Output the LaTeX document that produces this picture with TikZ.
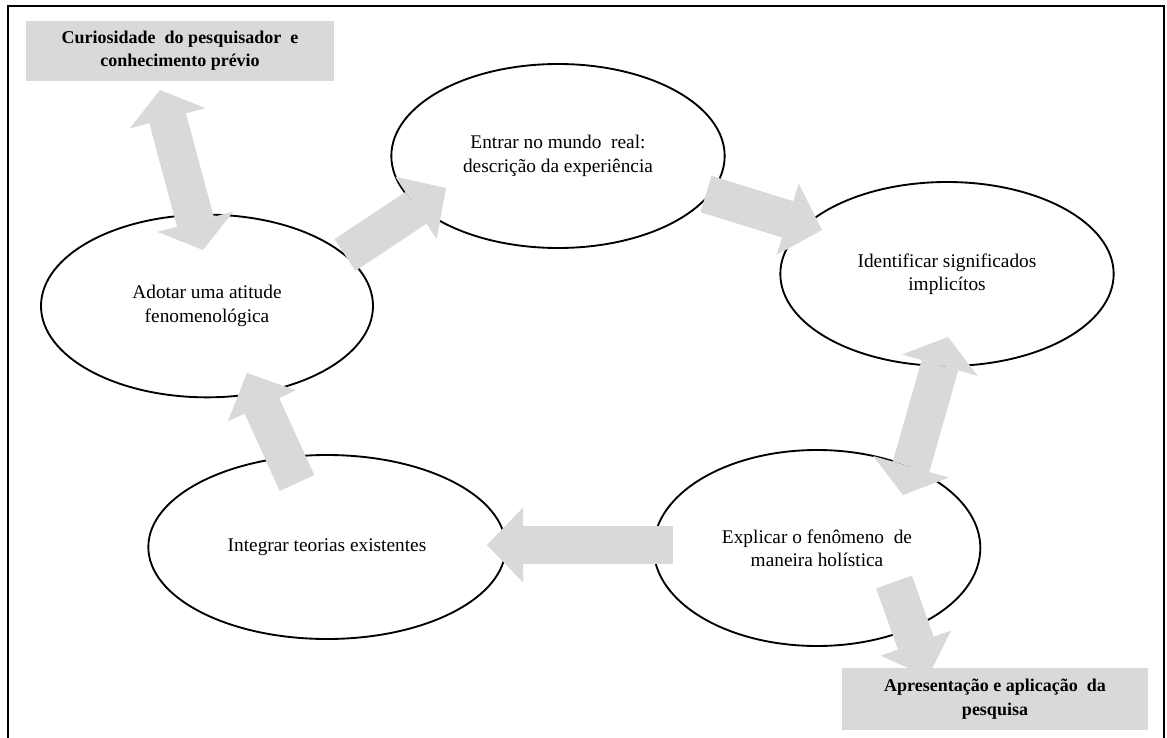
\documentclass[tikz,border=0pt]{standalone}
\usepackage{fontspec}
\setmainfont{Liberation Serif}
\usetikzlibrary{shapes.geometric,arrows.meta,calc}
\definecolor{blockgray}{HTML}{D9D9D9}

\begin{document}
\begin{tikzpicture}[
  x=0.75pt, y=-0.75pt,
  every node/.style={font=\fontsize{14.5}{17.5}\selectfont, align=center},
  phase/.style={ellipse, draw, line width=1.4pt, fill=white, inner sep=0pt},
  extbox/.style={rectangle, fill=blockgray, inner sep=0pt, font=\fontsize{13.5}{17.5}\selectfont\bfseries},
  blk/.style={draw=blockgray, line width=28.5pt, -{Triangle[length=27pt, width=56pt, line width=0pt]}},
  dblk/.style={draw=blockgray, line width=28.5pt, {Triangle[length=22pt, width=59pt, line width=0pt]}-{Triangle[length=22pt, width=59pt, line width=0pt]}},
]
\useasboundingbox (0,0) rectangle (1167,738);
\draw[line width=2pt] (8,738) -- (8,6) -- (1164,6) -- (1164,738);

\node[extbox, minimum width=231pt, minimum height=45pt] (curio) at (180,51) {Curiosidade\ \ do pesquisador\ \ e\\conhecimento\ prévio};
\node[extbox, minimum width=229.5pt, minimum height=46.5pt] (apres) at (995,699) {Apresentação\ e aplicação\ \ da\\pesquisa};

\node[phase, minimum width=250pt, minimum height=138pt] (entrar) at (558,156) {Entrar no mundo\ \ real:\\descrição da experiência};
\node[phase, minimum width=250pt, minimum height=138pt] (identificar) at (947,274) {Identificar significados\\implicítos};
\node[phase, minimum width=245pt, minimum height=147pt] (explicar) at (817,548) {Explicar o fenômeno\ \ de\\maneira holística};
\node[phase, minimum width=268pt, minimum height=138pt] (integrar) at (327,547) {Integrar teorias existentes};
\node[phase, minimum width=249pt, minimum height=137pt] (adotar) at (207,306) {Adotar uma atitude\\fenomenológica};

\draw[dblk] ($(curio)+(-20,39)$) -- ($(adotar)+(-4,-56)$);
\draw[blk] ($(adotar)+(138,-51)$) -- ($(entrar)+(-112,32)$);
\draw[blk] ($(entrar)+(148,38)$) -- ($(identificar)+(-125,-44)$);
\draw[dblk] ($(identificar)+(1,63)$) -- ($(explicar)+(86,-53)$);
\draw[blk] ($(explicar)+(-144,-3)$) -- ($(integrar)+(160,-2)$);
\draw[blk] ($(integrar)+(-30,-64)$) -- ($(adotar)+(40,67)$);
\draw[blk] ($(explicar)+(77,34)$) -- ($(apres)+(-67,-22)$);

\end{tikzpicture}
\end{document}
